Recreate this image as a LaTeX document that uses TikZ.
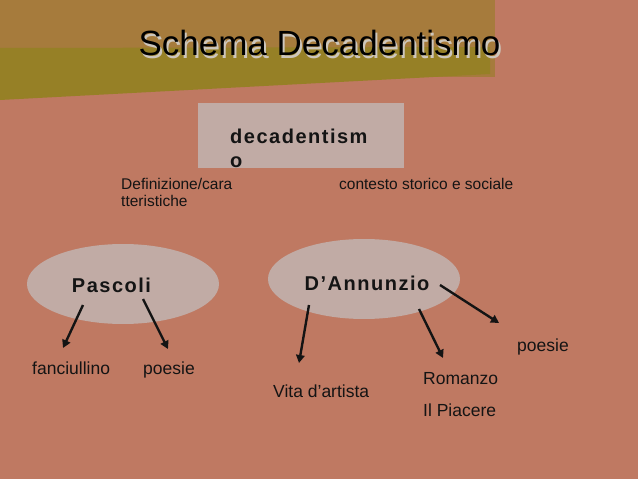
\documentclass[tikz,border=0pt]{standalone}
\usepackage{fontspec}
\setmainfont{Liberation Sans}
\newfontfamily\spacedfont[LetterSpace=7.5]{Liberation Sans}
\usetikzlibrary{arrows.meta,calc}
\definecolor{salmon}{RGB}{191,121,98}
\definecolor{bandtan}{RGB}{166,123,60}
\definecolor{olive}{RGB}{150,128,38}
\definecolor{panel}{RGB}{193,171,165}
\definecolor{shade}{RGB}{205,198,188}
\definecolor{ink}{RGB}{20,20,20}

\begin{document}
\begin{tikzpicture}[x=1pt,y=-1pt, >={Triangle[length=8pt,width=8.5pt]},
    arr/.style={->,line width=2.4pt,ink},
    lbl/.style={anchor=base west,inner sep=0pt,text=ink,
      font=\fontsize{17.5}{21}\selectfont},
    small/.style={inner sep=0pt,text=ink,font=\fontsize{15.5}{17}\selectfont},
    poet/.style={anchor=base,inner sep=0pt,text=ink,
      font=\spacedfont\bfseries\fontsize{20}{24}\selectfont}]
  \fill[salmon] (0,0) rectangle (638,479);
  \fill[bandtan] (0,0) rectangle (495,77);
  \fill[olive] (0,48) -- (490,47) -- (490,74) -- (0,100) -- cycle;
  \node[anchor=base,inner sep=0pt,text=shade,font=\fontsize{35}{42}\selectfont]
    (titleshadow) at (321.5,58) {Schema Decadentismo};
  \node[anchor=base,inner sep=0pt,font=\fontsize{35}{42}\selectfont]
    (title) at (319.5,56) {Schema Decadentismo};
  \fill[panel] (198,103) rectangle (404,168);
  \node[poet,anchor=north west,align=left,font=\spacedfont\bfseries\fontsize{20}{24.5}\selectfont]
    (deca) at (230,128.5) {decadentism\\o};
  \node[small,anchor=north west,align=left] (defi) at (121,178)
    {Definizione/cara\\tteristiche};
  \node[small,anchor=base west] (cont) at (339,189) {contesto storico e sociale};
  \fill[panel] (123,284) ellipse (96 and 40);
  \fill[panel] (364,279) ellipse (96 and 40);
  \node[poet] (pasc) at (111.5,292) {Pascoli};
  \node[poet] (dann) at (367,290) {D’Annunzio};
  \node[lbl] (fanc) at (32,374) {fanciullino};
  \node[lbl] (ppoe) at (143,374) {poesie};
  \node[lbl] (vita) at (273,397) {Vita d’artista};
  \node[lbl] (roma) at (423,384) {Romanzo};
  \node[lbl] (piac) at (423,416) {Il Piacere};
  \node[lbl] (dpoe) at (517,351) {poesie};
  \draw[arr] ($(pasc.base)+(-28.5,13)$) -- ($(fanc.base west)+(31,-26)$);
  \draw[arr] ($(pasc.base)+(31.5,7)$) -- ($(ppoe.base west)+(25,-25)$);
  \draw[arr] ($(dann.base)+(-58,15)$) -- ($(vita.base west)+(26,-34)$);
  \draw[arr] ($(dann.base)+(52,19)$) -- ($(roma.base west)+(20,-26)$);
  \draw[arr] ($(dann.base)+(73,-5)$) -- ($(dpoe.base west)+(-18,-28)$);
\end{tikzpicture}
\end{document}
